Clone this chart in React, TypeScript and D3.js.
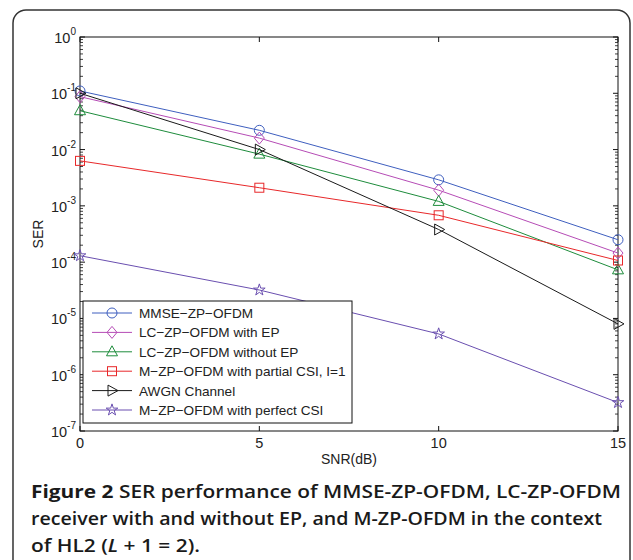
import React from "react";
import * as d3 from "d3";

// SNR points (dB)
const snr = [0, 5, 10, 15];

// SER values
const mmse = [0.11, 0.022, 0.0029, 2.5e-4];
const lcWithEP = [0.087, 0.016, 0.0019, 1.45e-4];
const lcWithoutEP = [0.049, 0.0083, 0.0012, 7.3e-5];
const mPartial = [0.0063, 0.0021, 6.8e-4, 1.07e-4];
const awgn = [0.1, 0.01, 3.8e-4, 8e-6];
const mPerfect = [1.3e-4, 3.2e-5, 5.3e-6, 3.2e-7];

const seriesNames = [
  "MMSE\u2212ZP\u2212OFDM",
  "LC\u2212ZP\u2212OFDM with EP",
  "LC\u2212ZP\u2212OFDM without EP",
  "M\u2212ZP\u2212OFDM with partial CSI, I=1",
  "AWGN Channel",
  "M\u2212ZP\u2212OFDM with perfect CSI",
];
const seriesValues = [mmse, lcWithEP, lcWithoutEP, mPartial, awgn, mPerfect];
const seriesColors = ["#3f5fbf", "#b64cb6", "#1e8c3c", "#e8282a", "#1a1a1a", "#6a4fb0"];
const seriesMarkers = ["circle", "diamond", "triangle", "square", "right", "star"];

const xTicks = [0, 5, 10, 15];
const yExponents = [0, -1, -2, -3, -4, -5, -6, -7];

const captionLines = [
  "SER performance of MMSE-ZP-OFDM, LC-ZP-OFDM",
  "receiver with and without EP, and M-ZP-OFDM in the context",
];

const starPath = d3.symbol().type(d3.symbolStar).size(42)() as string;

const Marker = ({ kind, color }: { kind: string; color: string }) => {
  const p = { fill: "none", stroke: color, strokeWidth: 1 };
  if (kind === "circle") return <circle r={5} {...p} />;
  if (kind === "diamond") return <path d="M0,-6L5,0L0,6L-5,0Z" {...p} />;
  if (kind === "triangle") return <path d="M0,-6L5.5,4L-5.5,4Z" {...p} />;
  if (kind === "square") return <rect x={-4.5} y={-4.5} width={9} height={9} {...p} />;
  if (kind === "right") return <path d="M-4,-5.5L6,0L-4,5.5Z" {...p} />;
  return <path d={starPath} {...p} />;
};

const App = () => {
  const width = 633;
  const height = 560;
  const margin = { left: 80, right: 618, top: 37, bottom: 431 };

  const x = d3.scaleLinear().domain([0, 15]).range([margin.left, margin.right]);
  const y = d3.scaleLog().domain([1e-7, 1]).range([margin.bottom, margin.top]);

  const line = d3
    .line<number>()
    .x((d, i) => x(snr[i]))
    .y((d) => y(d));

  // minor ticks for log axis
  const minor: number[] = [];
  for (let e = -7; e < 0; e++) {
    for (let m = 2; m <= 9; m++) minor.push(m * Math.pow(10, e));
  }

  const font = "Liberation Sans, Arial, Helvetica, sans-serif";
  const lg = { x: 83, y: 301, w: 269, h: 122 };

  return (
    <svg width={width} height={height} style={{ position: "absolute", left: 0, top: 0 }}>
      <rect width={width} height={height} fill="#fff" />
      <rect x={13} y={10} width={617} height={600} rx={13} fill="none" stroke="#333" strokeWidth={1.5} />

      {/* axes box */}
      <rect
        x={margin.left}
        y={margin.top}
        width={margin.right - margin.left}
        height={margin.bottom - margin.top}
        fill="none"
        stroke="#111"
        strokeWidth={1}
      />

      {/* y ticks */}
      {minor.map((v, i) => (
        <g key={"m" + i} stroke="#111" strokeWidth={0.8}>
          <line x1={margin.left} x2={margin.left + 3} y1={y(v)} y2={y(v)} />
          <line x1={margin.right} x2={margin.right - 3} y1={y(v)} y2={y(v)} />
        </g>
      ))}
      {yExponents.map((e) => (
        <g key={"y" + e}>
          <line x1={margin.left} x2={margin.left + 5} y1={y(Math.pow(10, e))} y2={y(Math.pow(10, e))} stroke="#111" />
          <line x1={margin.right} x2={margin.right - 5} y1={y(Math.pow(10, e))} y2={y(Math.pow(10, e))} stroke="#111" />
          <text x={margin.left - 4} y={y(Math.pow(10, e)) + 6} fontFamily={font} fontSize={14.5} textAnchor="end" fill="#222">
            10
            <tspan dy={-8} fontSize={10}>{e}</tspan>
          </text>
        </g>
      ))}

      {/* x ticks */}
      {xTicks.map((t) => (
        <g key={"x" + t}>
          <line x1={x(t)} x2={x(t)} y1={margin.bottom} y2={margin.bottom - 5} stroke="#111" />
          <line x1={x(t)} x2={x(t)} y1={margin.top} y2={margin.top + 5} stroke="#111" />
          <text x={x(t)} y={margin.bottom + 17} fontFamily={font} fontSize={14.5} textAnchor="middle" fill="#222">
            {t}
          </text>
        </g>
      ))}
      <text x={(margin.left + margin.right) / 2} y={464} fontFamily={font} fontSize={14} textAnchor="middle" fill="#222">
        SNR(dB)
      </text>
      <text
        transform={`translate(43,${(margin.top + margin.bottom) / 2}) rotate(-90)`}
        fontFamily={font}
        fontSize={14}
        textAnchor="middle"
        fill="#222"
      >
        SER
      </text>

      {/* series */}
      {seriesValues.map((vals, si) => (
        <g key={"s" + si}>
          <path d={line(vals) as string} fill="none" stroke={seriesColors[si]} strokeWidth={1} />
          {vals.map((v, i) => (
            <g key={i} transform={`translate(${x(snr[i])},${y(v)})`}>
              <Marker kind={seriesMarkers[si]} color={seriesColors[si]} />
            </g>
          ))}
        </g>
      ))}

      {/* legend */}
      <rect x={lg.x} y={lg.y} width={lg.w} height={lg.h} fill="#fff" stroke="#111" strokeWidth={1} />
      {seriesNames.map((name, i) => {
        const ry = 313 + i * 19.4;
        return (
          <g key={"l" + i}>
            <line x1={92} x2={132} y1={ry} y2={ry} stroke={seriesColors[i]} strokeWidth={1} />
            <g transform={`translate(112,${ry})`}>
              <Marker kind={seriesMarkers[i]} color={seriesColors[i]} />
            </g>
            <text x={139} y={ry + 5} fontFamily={font} fontSize={13.6} fill="#222">
              {name}
            </text>
          </g>
        );
      })}

      {/* caption */}
      <g fontFamily="'Open Sans', 'Noto Sans', sans-serif" fontSize={17.5} fill="#1a1a1a" fontWeight={600}>
        <text x={31} y={498} textLength={590} lengthAdjust="spacingAndGlyphs">
          <tspan fontWeight={700}>Figure 2</tspan> {captionLines[0]}
        </text>
        <text x={31} y={525} textLength={571} lengthAdjust="spacingAndGlyphs">
          {captionLines[1]}
        </text>
        <text x={31} y={552} textLength={169} lengthAdjust="spacingAndGlyphs">
          of HL2 (<tspan fontStyle="italic">L</tspan> + 1 = 2).
        </text>
      </g>
    </svg>
  );
};

export default App;
